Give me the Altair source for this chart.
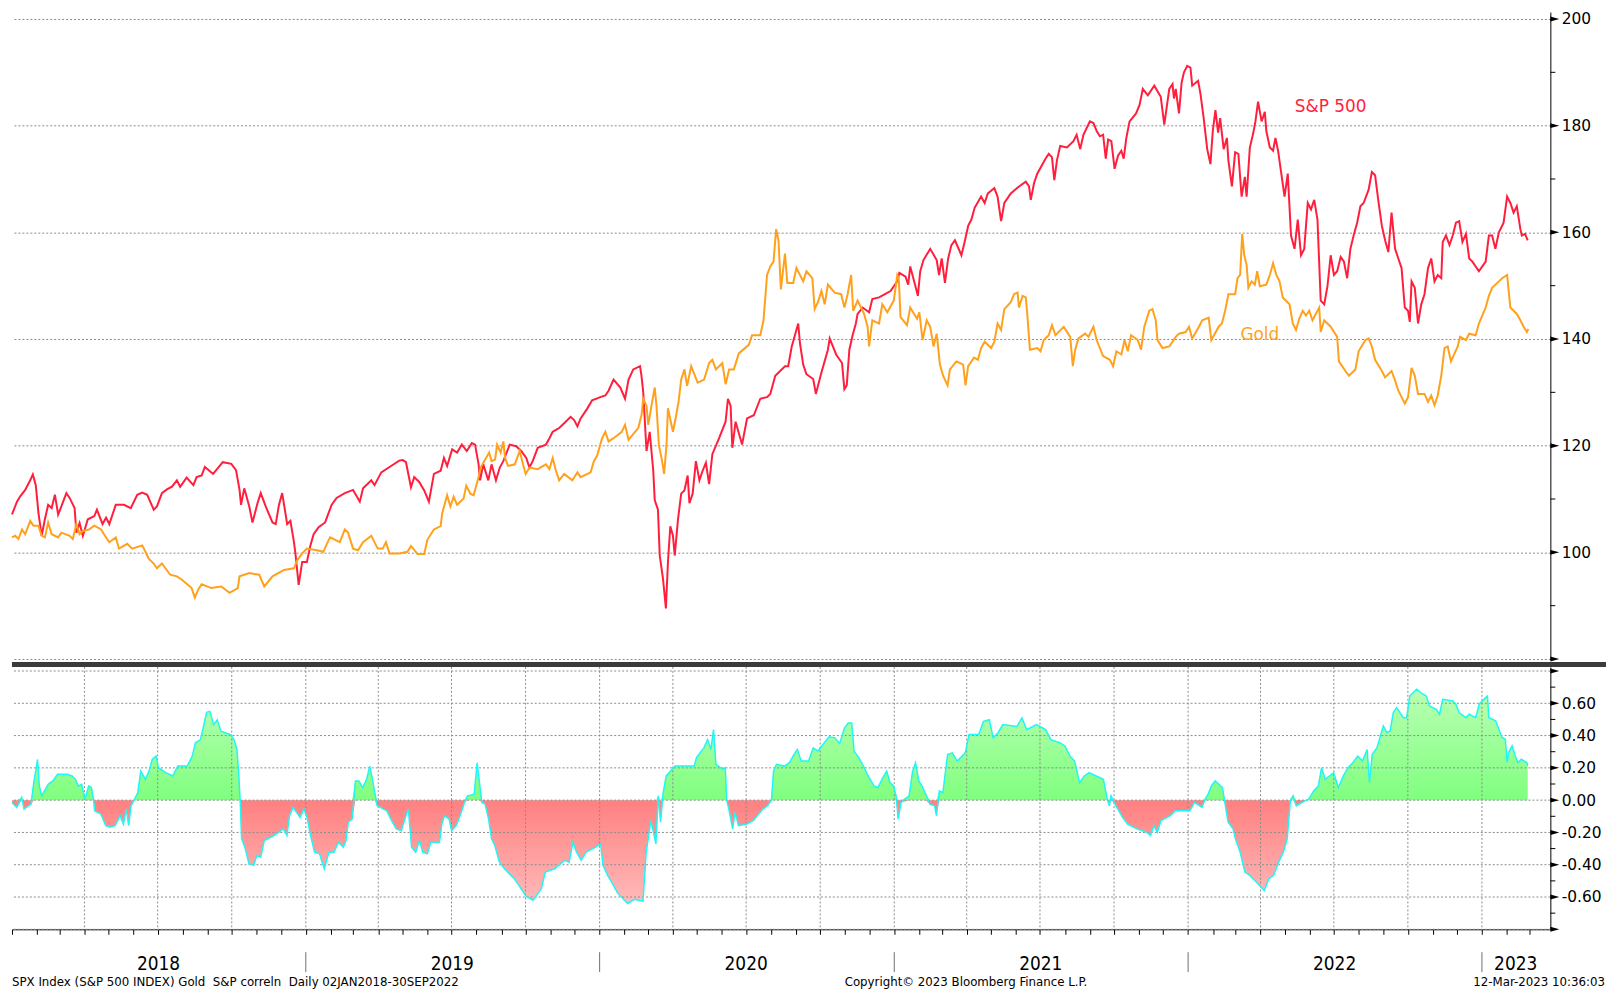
import altair as alt
import numpy as np
import pandas as pd

# ---------------- data (time = years after 1 Jan 2018) -------------
spx_t = [0.000, 0.017, 0.028, 0.045, 0.062, 0.071, 0.081, 0.090, 0.101, 0.112, 0.123, 0.135, 0.146, 0.157,
         0.168, 0.185, 0.196, 0.213, 0.219, 0.230, 0.241, 0.258, 0.280, 0.289, 0.308, 0.320, 0.331, 0.353,
         0.381, 0.404, 0.426, 0.443, 0.460, 0.482, 0.493, 0.510, 0.527, 0.544, 0.561, 0.572, 0.594, 0.617,
         0.628, 0.645, 0.656, 0.684, 0.717, 0.746, 0.762, 0.774, 0.779, 0.790, 0.807, 0.818, 0.835, 0.846,
         0.863, 0.886, 0.897, 0.908, 0.919, 0.936, 0.947, 0.959, 0.964, 0.975, 0.987, 1.003, 1.015, 1.026,
         1.043, 1.065, 1.087, 1.104, 1.132, 1.160, 1.183, 1.194, 1.222, 1.233, 1.256, 1.284, 1.317, 1.329,
         1.340, 1.357, 1.368, 1.385, 1.402, 1.418, 1.435, 1.458, 1.469, 1.480, 1.497, 1.514, 1.530, 1.547,
         1.564, 1.575, 1.587, 1.592, 1.603, 1.620, 1.631, 1.646, 1.659, 1.671, 1.693, 1.715, 1.732, 1.749,
         1.760, 1.771, 1.788, 1.816, 1.828, 1.839, 1.861, 1.878, 1.900, 1.912, 1.923, 1.934, 1.956, 1.973,
         2.001, 2.018, 2.029, 2.046, 2.069, 2.085, 2.097, 2.113, 2.136, 2.141, 2.147, 2.158, 2.169, 2.181,
         2.186, 2.197, 2.203, 2.214, 2.224, 2.231, 2.239, 2.248, 2.254, 2.265, 2.276, 2.287, 2.298, 2.304,
         2.315, 2.326, 2.338, 2.349, 2.360, 2.371, 2.382, 2.405, 2.427, 2.435, 2.444, 2.450, 2.461, 2.483,
         2.500, 2.523, 2.545, 2.568, 2.579, 2.596, 2.629, 2.640, 2.652, 2.674, 2.680, 2.691, 2.702, 2.725,
         2.734, 2.753, 2.775, 2.781, 2.803, 2.823, 2.831, 2.839, 2.848, 2.859, 2.870, 2.876, 2.893, 2.915,
         2.926, 2.949, 2.969, 2.988, 3.011, 3.018, 3.039, 3.048, 3.055, 3.074, 3.081, 3.089, 3.100, 3.123,
         3.145, 3.153, 3.162, 3.173, 3.184, 3.195, 3.207, 3.229, 3.240, 3.252, 3.263, 3.274, 3.296, 3.308,
         3.319, 3.341, 3.352, 3.364, 3.375, 3.397, 3.425, 3.448, 3.459, 3.465, 3.476, 3.487, 3.515, 3.526,
         3.537, 3.545, 3.554, 3.565, 3.588, 3.610, 3.621, 3.633, 3.644, 3.666, 3.678, 3.689, 3.700, 3.711,
         3.720, 3.728, 3.739, 3.750, 3.762, 3.773, 3.781, 3.790, 3.801, 3.823, 3.835, 3.846, 3.863, 3.885,
         3.907, 3.919, 3.936, 3.947, 3.952, 3.958, 3.969, 3.978, 3.986, 3.997, 4.008, 4.014, 4.034, 4.042,
         4.053, 4.065, 4.076, 4.084, 4.093, 4.102, 4.109, 4.121, 4.132, 4.137, 4.149, 4.160, 4.171, 4.182,
         4.193, 4.199, 4.210, 4.222, 4.229, 4.238, 4.250, 4.261, 4.266, 4.278, 4.289, 4.297, 4.306, 4.317,
         4.328, 4.339, 4.350, 4.362, 4.373, 4.384, 4.395, 4.407, 4.418, 4.429, 4.440, 4.451, 4.463, 4.474,
         4.485, 4.496, 4.507, 4.519, 4.530, 4.541, 4.552, 4.563, 4.575, 4.586, 4.597, 4.614, 4.625, 4.636,
         4.648, 4.659, 4.670, 4.681, 4.692, 4.704, 4.715, 4.726, 4.737, 4.748, 4.754, 4.760, 4.771, 4.782,
         4.793, 4.804, 4.816, 4.827, 4.838, 4.849, 4.861, 4.866, 4.877, 4.889, 4.900, 4.911, 4.922, 4.933,
         4.945, 4.956, 4.967, 4.989, 5.012, 5.023, 5.034, 5.045, 5.057, 5.073, 5.085, 5.096, 5.107, 5.118,
         5.130, 5.135, 5.146, 5.155]
spx_v = [107.1, 109.5, 110.5, 111.7, 113.5, 114.6, 112.6, 107.4, 103.1, 106.2, 108.9, 108.3, 110.8, 107.1,
         108.6, 111.1, 110.2, 108.3, 103.7, 105.5, 103.1, 106.2, 106.8, 108.0, 105.3, 106.5, 105.3, 108.9,
         108.9, 108.3, 110.8, 111.2, 110.8, 108.0, 108.6, 111.1, 111.8, 112.3, 113.5, 112.3, 114.0, 112.6,
         114.1, 114.4, 116.0, 114.7, 116.9, 116.6, 115.4, 111.7, 108.9, 112.0, 108.6, 105.6, 109.2, 111.1,
         108.6, 105.6, 105.3, 108.9, 111.1, 105.3, 105.9, 101.9, 99.8, 93.9, 98.2, 98.2, 101.3, 103.4,
         104.7, 105.6, 108.9, 110.2, 111.1, 111.7, 109.5, 112.0, 113.5, 112.6, 115.0, 116.0, 117.2, 117.3,
         116.9, 112.2, 114.1, 113.2, 111.6, 109.5, 114.7, 115.3, 117.7, 116.2, 119.3, 118.7, 120.2, 119.0,
         120.5, 120.2, 116.5, 113.5, 116.5, 113.5, 116.5, 113.5, 115.9, 117.1, 120.2, 119.9, 119.0, 117.7,
         115.9, 117.1, 119.6, 120.2, 121.4, 122.6, 123.3, 124.2, 125.4, 124.8, 123.6, 125.1, 126.9, 128.5,
         129.1, 129.4, 130.3, 132.4, 130.9, 128.8, 132.4, 134.3, 134.9, 133.1, 130.0, 119.0, 122.6, 115.3,
         109.8, 108.0, 99.4, 95.1, 89.5, 98.2, 104.9, 103.1, 99.4, 106.1, 111.0, 111.6, 114.4, 109.2,
         111.0, 117.1, 113.5, 115.3, 116.8, 112.8, 118.4, 121.4, 124.5, 128.8, 127.5, 119.6, 124.5, 120.2,
         125.1, 125.7, 128.8, 129.1, 129.7, 133.1, 134.9, 134.9, 138.6, 142.9, 139.2, 135.2, 133.4, 132.5,
         129.7, 133.7, 138.0, 140.1, 137.1, 135.5, 130.6, 131.3, 138.0, 140.7, 142.9, 144.7, 145.9, 145.0,
         147.5, 147.8, 148.4, 149.0, 150.8, 152.4, 151.7, 150.2, 153.6, 149.6, 148.1, 152.7, 154.8, 156.9,
         154.8, 152.0, 155.1, 150.5, 155.1, 157.6, 158.5, 155.7, 158.2, 161.2, 162.4, 164.6, 166.7, 165.5,
         167.3, 168.3, 166.7, 162.1, 165.5, 167.3, 168.6, 169.5, 168.6, 166.1, 169.2, 171.0, 173.8, 174.7,
         174.1, 169.8, 173.5, 176.2, 175.9, 177.1, 178.3, 175.6, 178.3, 180.8, 180.5, 179.0, 178.0, 178.3,
         173.8, 177.4, 177.1, 171.9, 174.4, 175.3, 173.8, 177.7, 180.8, 182.3, 183.9, 186.9, 185.7, 187.5,
         185.4, 180.2, 186.9, 187.8, 185.1, 186.9, 182.3, 188.1, 190.0, 191.2, 190.9, 187.5, 188.4, 186.0,
         181.4, 175.6, 172.8, 179.0, 182.9, 178.7, 181.4, 175.6, 177.7, 173.5, 168.6, 175.0, 174.7, 166.7,
         170.4, 166.7, 175.9, 178.7, 180.8, 184.5, 180.8, 182.6, 179.0, 175.9, 175.3, 177.7, 175.3, 171.0,
         166.7, 171.0, 159.4, 156.9, 162.4, 155.7, 156.9, 165.5, 164.3, 166.1, 162.4, 147.2, 146.5, 149.9,
         155.7, 152.0, 152.7, 155.4, 154.5, 151.4, 156.9, 159.4, 161.8, 164.9, 165.5, 168.0, 171.3, 170.7,
         165.5, 161.2, 158.5, 156.3, 163.7, 156.9, 155.1, 153.3, 145.9, 145.3, 143.2, 150.8, 149.6, 142.9,
         146.5, 148.4, 153.3, 155.1, 150.8, 152.0, 151.4, 158.2, 159.4, 157.6, 159.4, 161.8, 162.1, 158.2,
         159.7, 155.1, 154.5, 152.7, 154.5, 159.4, 159.4, 156.9, 160.0, 161.8, 166.7, 165.5, 163.7, 164.9,
         160.6, 159.4, 159.7, 158.5]

gold_t = [0.000, 0.011, 0.022, 0.034, 0.045, 0.062, 0.073, 0.090, 0.101, 0.112, 0.123, 0.135, 0.157, 0.168,
          0.196, 0.207, 0.219, 0.230, 0.241, 0.263, 0.280, 0.303, 0.320, 0.331, 0.353, 0.364, 0.392, 0.409,
          0.443, 0.454, 0.465, 0.482, 0.493, 0.510, 0.538, 0.561, 0.577, 0.611, 0.622, 0.633, 0.645, 0.678,
          0.712, 0.740, 0.768, 0.774, 0.807, 0.841, 0.858, 0.886, 0.925, 0.959, 0.970, 0.987, 1.003, 1.037,
          1.059, 1.071, 1.082, 1.115, 1.132, 1.143, 1.160, 1.177, 1.194, 1.222, 1.244, 1.261, 1.272, 1.284,
          1.317, 1.345, 1.357, 1.379, 1.402, 1.413, 1.435, 1.458, 1.463, 1.480, 1.491, 1.502, 1.514, 1.536,
          1.545, 1.559, 1.570, 1.587, 1.594, 1.606, 1.623, 1.631, 1.643, 1.650, 1.662, 1.671, 1.677, 1.687,
          1.710, 1.727, 1.738, 1.747, 1.760, 1.788, 1.816, 1.828, 1.839, 1.850, 1.861, 1.878, 1.906, 1.923,
          1.934, 1.968, 1.979, 1.990, 2.007, 2.018, 2.029, 2.046, 2.074, 2.085, 2.097, 2.119, 2.130, 2.141,
          2.147, 2.158, 2.164, 2.175, 2.186, 2.192, 2.200, 2.209, 2.218, 2.226, 2.231, 2.248, 2.259, 2.267,
          2.276, 2.287, 2.296, 2.310, 2.332, 2.354, 2.371, 2.382, 2.394, 2.416, 2.427, 2.439, 2.455, 2.472,
          2.506, 2.517, 2.545, 2.556, 2.568, 2.579, 2.590, 2.599, 2.607, 2.615, 2.629, 2.637, 2.657, 2.668,
          2.691, 2.702, 2.722, 2.730, 2.741, 2.753, 2.764, 2.775, 2.798, 2.820, 2.831, 2.842, 2.854, 2.861,
          2.876, 2.898, 2.910, 2.915, 2.926, 2.949, 2.960, 2.977, 2.999, 3.011, 3.016, 3.022, 3.044, 3.055,
          3.078, 3.086, 3.097, 3.111, 3.123, 3.134, 3.145, 3.156, 3.167, 3.182, 3.190, 3.212, 3.235, 3.243,
          3.252, 3.272, 3.285, 3.296, 3.308, 3.330, 3.341, 3.352, 3.364, 3.375, 3.397, 3.408, 3.420, 3.425,
          3.437, 3.448, 3.453, 3.462, 3.487, 3.498, 3.509, 3.526, 3.537, 3.549, 3.577, 3.599, 3.608, 3.616,
          3.627, 3.650, 3.661, 3.678, 3.689, 3.711, 3.734, 3.745, 3.756, 3.773, 3.784, 3.795, 3.806, 3.829,
          3.840, 3.851, 3.868, 3.879, 3.890, 3.896, 3.913, 3.936, 3.958, 3.969, 3.992, 4.003, 4.014, 4.037,
          4.048, 4.070, 4.079, 4.104, 4.115, 4.126, 4.137, 4.160, 4.168, 4.177, 4.184, 4.191, 4.199, 4.205,
          4.216, 4.227, 4.235, 4.244, 4.266, 4.278, 4.289, 4.300, 4.311, 4.322, 4.345, 4.356, 4.367, 4.378,
          4.390, 4.401, 4.412, 4.423, 4.446, 4.451, 4.463, 4.485, 4.507, 4.513, 4.535, 4.547, 4.569, 4.580,
          4.603, 4.614, 4.625, 4.636, 4.659, 4.670, 4.692, 4.704, 4.715, 4.737, 4.748, 4.760, 4.771, 4.782,
          4.804, 4.816, 4.827, 4.838, 4.849, 4.861, 4.872, 4.883, 4.894, 4.917, 4.925, 4.945, 4.956, 4.978,
          4.989, 5.012, 5.023, 5.034, 5.057, 5.068, 5.085, 5.096, 5.118, 5.130, 5.141, 5.152, 5.157]
gold_v = [102.8, 103.1, 102.5, 104.3, 103.4, 105.9, 105.0, 105.0, 103.1, 102.8, 105.6, 103.4, 102.8, 103.7,
          103.1, 102.5, 105.3, 103.4, 104.0, 104.3, 105.0, 104.3, 102.8, 101.9, 102.8, 100.7, 101.6, 100.7,
          101.3, 100.1, 98.8, 97.9, 97.0, 97.9, 95.8, 95.5, 94.9, 93.3, 91.5, 93.0, 94.0, 93.3,
          93.6, 92.4, 93.3, 95.5, 96.1, 95.8, 93.6, 95.5, 96.7, 97.0, 98.5, 99.8, 100.7, 100.4,
          100.1, 101.6, 102.8, 101.9, 104.3, 103.7, 100.7, 100.4, 101.9, 103.1, 100.7, 100.7, 101.9, 99.8,
          99.8, 100.1, 101.2, 99.7, 99.7, 102.4, 104.3, 104.9, 107.3, 110.7, 108.6, 110.4, 108.9, 110.1,
          112.5, 111.0, 110.7, 114.1, 115.9, 117.1, 118.7, 117.1, 117.4, 120.2, 118.7, 120.8, 117.7, 116.2,
          116.5, 119.0, 116.5, 114.7, 115.9, 115.6, 116.5, 115.6, 117.7, 115.3, 113.5, 114.7, 113.5, 115.0,
          114.1, 115.0, 117.1, 118.1, 121.4, 122.6, 120.8, 121.4, 122.6, 123.9, 121.1, 122.6, 123.3, 125.7,
          128.8, 127.5, 123.9, 127.5, 130.9, 127.5, 120.2, 117.7, 114.7, 120.2, 127.0, 122.6, 125.7, 128.2,
          132.4, 134.3, 131.2, 134.9, 131.8, 132.4, 135.5, 136.1, 134.3, 135.5, 131.5, 134.3, 134.3, 137.3,
          138.9, 140.7, 140.7, 143.5, 152.0, 153.6, 154.5, 160.6, 158.5, 149.3, 156.0, 150.5, 150.5, 153.3,
          150.8, 152.7, 151.4, 145.6, 146.9, 149.0, 146.5, 150.2, 148.7, 148.4, 145.9, 148.4, 152.0, 145.3,
          147.2, 144.7, 142.3, 138.6, 143.5, 142.9, 146.5, 145.0, 147.2, 152.0, 151.4, 144.1, 142.6, 145.9,
          143.8, 145.0, 139.8, 143.5, 142.3, 138.6, 141.0, 135.2, 133.1, 131.3, 134.3, 135.8, 135.2, 131.3,
          134.9, 136.5, 136.1, 138.3, 139.5, 138.3, 139.5, 142.9, 141.7, 145.6, 146.9, 148.4, 148.7, 145.9,
          148.1, 147.8, 144.7, 138.0, 138.3, 137.7, 139.8, 140.7, 142.6, 140.7, 142.3, 140.4, 134.9, 138.0,
          140.1, 141.0, 140.4, 142.3, 139.8, 136.8, 136.1, 134.9, 137.7, 137.1, 139.8, 137.7, 140.7, 139.8,
          138.0, 142.3, 145.3, 145.6, 143.5, 139.8, 138.3, 138.6, 140.4, 141.0, 141.3, 142.3, 140.1, 142.3,
          143.5, 144.0, 139.8, 142.3, 142.9, 145.3, 148.4, 148.4, 151.4, 152.0, 159.7, 155.7, 153.9, 149.6,
          150.8, 150.2, 152.7, 149.9, 150.2, 152.0, 154.2, 152.0, 150.8, 147.8, 146.5, 142.9, 141.7, 143.8,
          145.3, 144.4, 145.3, 143.5, 145.9, 141.3, 143.5, 142.3, 140.4, 135.8, 134.0, 133.1, 134.3, 137.7,
          139.8, 140.1, 138.6, 136.1, 134.0, 132.8, 134.0, 132.2, 130.3, 127.9, 129.1, 134.6, 133.1, 129.7,
          129.7, 128.2, 129.4, 127.6, 129.4, 133.1, 138.3, 138.6, 135.8, 138.6, 140.4, 139.8, 141.0, 140.7,
          142.9, 145.9, 148.1, 149.6, 150.8, 151.4, 152.0, 145.9, 144.7, 143.5, 142.3, 141.3, 141.9]

corr_t = [0.000, 0.016, 0.033, 0.041, 0.065, 0.074, 0.087, 0.093, 0.101, 0.123, 0.139, 0.155, 0.188, 0.204,
          0.216, 0.225, 0.237, 0.248, 0.261, 0.270, 0.278, 0.281, 0.302, 0.319, 0.335, 0.351, 0.368, 0.379,
          0.389, 0.397, 0.405, 0.417, 0.428, 0.438, 0.454, 0.466, 0.477, 0.490, 0.498, 0.523, 0.547, 0.564,
          0.596, 0.613, 0.624, 0.641, 0.650, 0.662, 0.673, 0.686, 0.698, 0.711, 0.743, 0.755, 0.765, 0.771,
          0.776, 0.781, 0.792, 0.806, 0.822, 0.833, 0.846, 0.858, 0.891, 0.907, 0.923, 0.935, 0.944, 0.956,
          0.980, 0.993, 1.005, 1.013, 1.029, 1.046, 1.062, 1.078, 1.095, 1.111, 1.127, 1.136, 1.144, 1.157,
          1.168, 1.180, 1.193, 1.206, 1.217, 1.225, 1.234, 1.242, 1.275, 1.291, 1.307, 1.324, 1.340, 1.348,
          1.359, 1.373, 1.386, 1.397, 1.413, 1.425, 1.454, 1.462, 1.471, 1.487, 1.495, 1.511, 1.528, 1.539,
          1.549, 1.572, 1.582, 1.590, 1.598, 1.609, 1.621, 1.631, 1.642, 1.658, 1.675, 1.691, 1.708, 1.724,
          1.748, 1.772, 1.800, 1.814, 1.846, 1.879, 1.895, 1.908, 1.920, 1.936, 1.953, 1.985, 2.002, 2.010,
          2.026, 2.042, 2.060, 2.094, 2.118, 2.146, 2.157, 2.173, 2.190, 2.198, 2.206, 2.214, 2.225, 2.255,
          2.320, 2.328, 2.353, 2.366, 2.377, 2.386, 2.394, 2.418, 2.426, 2.431, 2.438, 2.451, 2.459, 2.471,
          2.500, 2.521, 2.554, 2.570, 2.583, 2.590, 2.600, 2.627, 2.644, 2.660, 2.671, 2.684, 2.709, 2.725,
          2.741, 2.758, 2.779, 2.799, 2.815, 2.831, 2.844, 2.856, 2.864, 2.880, 2.896, 2.909, 2.932, 2.945,
          2.962, 2.975, 2.986, 2.998, 3.007, 3.014, 3.024, 3.051, 3.063, 3.073, 3.084, 3.095, 3.108, 3.122,
          3.138, 3.144, 3.154, 3.166, 3.182, 3.198, 3.215, 3.242, 3.255, 3.288, 3.304, 3.324, 3.337, 3.353,
          3.370, 3.418, 3.435, 3.451, 3.484, 3.516, 3.533, 3.565, 3.582, 3.598, 3.614, 3.631, 3.647, 3.663,
          3.712, 3.725, 3.732, 3.738, 3.748, 3.761, 3.777, 3.794, 3.826, 3.859, 3.872, 3.884, 3.895, 3.908,
          3.940, 3.957, 4.006, 4.022, 4.047, 4.058, 4.068, 4.079, 4.092, 4.117, 4.125, 4.136, 4.153, 4.161,
          4.177, 4.193, 4.210, 4.226, 4.242, 4.259, 4.275, 4.291, 4.308, 4.324, 4.337, 4.348, 4.357, 4.368,
          4.397, 4.410, 4.427, 4.443, 4.454, 4.466, 4.495, 4.511, 4.528, 4.544, 4.560, 4.577, 4.593, 4.609,
          4.617, 4.626, 4.642, 4.664, 4.676, 4.687, 4.698, 4.709, 4.732, 4.743, 4.754, 4.777, 4.799, 4.810,
          4.821, 4.844, 4.855, 4.866, 4.900, 4.911, 4.922, 4.945, 4.956, 4.978, 4.990, 5.012, 5.018, 5.023,
          5.046, 5.057, 5.068, 5.079, 5.085, 5.090, 5.102, 5.113, 5.122, 5.133, 5.152, 5.155]
corr_v = [-0.014, -0.045, 0.016, -0.055, -0.025, 0.109, 0.252, 0.088, 0.027, 0.098, 0.119, 0.160, 0.160, 0.150,
          0.129, 0.088, 0.098, 0.006, 0.088, 0.078, -0.004, -0.066, -0.086, -0.158, -0.168, -0.158, -0.096, -0.148,
          -0.055, -0.158, -0.035, 0.006, 0.047, 0.180, 0.129, 0.180, 0.252, 0.273, 0.201, 0.170, 0.150, 0.211,
          0.211, 0.273, 0.355, 0.375, 0.447, 0.544, 0.550, 0.468, 0.498, 0.427, 0.406, 0.375, 0.314, 0.170,
          0.000, -0.240, -0.291, -0.394, -0.404, -0.343, -0.353, -0.250, -0.219, -0.199, -0.178, -0.219, -0.096, -0.045,
          -0.107, -0.055, -0.117, -0.199, -0.322, -0.332, -0.425, -0.322, -0.322, -0.260, -0.291, -0.250, -0.137, -0.117,
          0.119, 0.119, 0.078, 0.129, 0.211, 0.139, 0.047, -0.035, -0.066, -0.127, -0.178, -0.189, -0.096, -0.055,
          -0.291, -0.322, -0.250, -0.322, -0.332, -0.260, -0.260, -0.148, -0.096, -0.117, -0.189, -0.158, -0.076, -0.014,
          0.027, 0.037, 0.232, 0.109, -0.014, -0.025, -0.117, -0.240, -0.281, -0.384, -0.425, -0.455, -0.486, -0.527,
          -0.595, -0.620, -0.550, -0.445, -0.425, -0.373, -0.384, -0.260, -0.322, -0.373, -0.322, -0.291, -0.271, -0.404,
          -0.466, -0.517, -0.576, -0.640, -0.614, -0.627, -0.322, -0.127, -0.271, 0.027, -0.137, 0.037, 0.150, 0.211,
          0.211, 0.263, 0.324, 0.375, 0.314, 0.437, 0.222, 0.191, 0.201, 0.000, -0.055, -0.178, -0.076, -0.158,
          -0.148, -0.127, -0.055, -0.035, 0.000, 0.180, 0.222, 0.211, 0.232, 0.283, 0.314, 0.242, 0.242, 0.324,
          0.304, 0.345, 0.392, 0.386, 0.351, 0.447, 0.478, 0.478, 0.304, 0.263, 0.211, 0.160, 0.088, 0.078,
          0.139, 0.180, 0.109, 0.088, 0.027, -0.117, -0.014, 0.027, 0.180, 0.232, 0.119, 0.088, 0.037, -0.025,
          -0.035, -0.096, 0.057, 0.047, 0.283, 0.293, 0.242, 0.293, 0.406, 0.406, 0.488, 0.498, 0.386, 0.416,
          0.468, 0.457, 0.509, 0.437, 0.468, 0.437, 0.375, 0.355, 0.334, 0.273, 0.242, 0.109, 0.150, 0.170,
          0.129, 0.006, -0.035, 0.027, -0.014, -0.055, -0.107, -0.148, -0.178, -0.199, -0.219, -0.158, -0.199, -0.127,
          -0.096, -0.066, -0.066, -0.014, -0.045, 0.006, 0.037, 0.088, 0.119, 0.078, -0.014, -0.137, -0.178, -0.240,
          -0.322, -0.445, -0.466, -0.496, -0.527, -0.560, -0.486, -0.466, -0.384, -0.322, -0.240, 0.000, 0.027, -0.035,
          -0.004, 0.006, 0.057, 0.088, 0.201, 0.129, 0.170, 0.078, 0.150, 0.201, 0.232, 0.273, 0.242, 0.314,
          0.109, 0.283, 0.324, 0.460, 0.419, 0.429, 0.542, 0.573, 0.511, 0.511, 0.645, 0.687, 0.656, 0.645,
          0.584, 0.563, 0.532, 0.625, 0.614, 0.594, 0.542, 0.511, 0.532, 0.511, 0.594, 0.635, 0.645, 0.511,
          0.491, 0.439, 0.388, 0.377, 0.233, 0.295, 0.336, 0.274, 0.233, 0.254, 0.233, 0.212]

top_ticks = [80, 100, 120, 140, 160, 180, 200]
top_minor = [90, 110, 130, 150, 170, 190]
bot_ticks = [-0.8, -0.6, -0.4, -0.2, 0.0, 0.2, 0.4, 0.6, 0.8]
bot_minor = [-0.7, -0.5, -0.3, -0.1, 0.1, 0.3, 0.5, 0.7]
series_names = ["S&P 500", "Gold"]
label_t = [4.363, 4.178]
label_v = [182.6, 139.8]
year_labels = ["2018", "2019", "2020", "2021", "2022", "2023"]
year_label_dates = ["2018-07-02", "2019-07-02", "2020-07-01", "2021-07-02", "2022-07-02", "2023-02-12"]
year_bounds = ["2019-01-01", "2020-01-01", "2021-01-01", "2022-01-01", "2023-01-01"]
footer_left = "SPX Index (S&P 500 INDEX) Gold\u00a0 S&P correln\u00a0 Daily 02JAN2018-30SEP2022"
footer_mid = "Copyright\u00a9 2023 Bloomberg Finance L.P."
footer_right = "12-Mar-2023 10:36:03"

# ---------------- styling ----------------
RED = "#ff1f3d"
GOLD = "#ffa11c"
GRID = "#8a8a8a"
CYAN = "#22f5f5"
NUM_FONT = "DejaVu Sans"
NARROW = "DejaVu Sans Condensed, Liberation Sans Narrow, sans-serif"
W, H1, H2 = 1548, 651, 264
TRI = "M-1,-0.55L1,0L-1,0.55Z"

base = pd.Timestamp("2018-01-01")


def to_dates(t):
    return base + pd.to_timedelta(np.asarray(t, dtype=float) * 365.25, unit="D")


prices = pd.DataFrame({
    "date": list(to_dates(spx_t)) + list(to_dates(gold_t)),
    "value": spx_v + gold_v,
    "series": [series_names[0]] * len(spx_v) + [series_names[1]] * len(gold_v),
})
notes = pd.DataFrame({"date": to_dates(label_t), "value": label_v, "series": series_names})
corr = pd.DataFrame({"date": to_dates(corr_t), "r": corr_v})
corr["pos"] = corr["r"].clip(lower=0)
corr["neg"] = corr["r"].clip(upper=0)
quarters = pd.DataFrame({"date": pd.date_range("2018-04-01", "2023-01-01", freq="QS")})
months = pd.date_range("2018-01-01", "2023-03-01", freq="MS")
month_vals = [alt.DateTime(year=int(d.year), month=int(d.month), date=1) for d in months]
ylab = pd.DataFrame({"date": pd.to_datetime(year_label_dates), "label": year_labels})
ybnd = pd.DataFrame({"date": pd.to_datetime(year_bounds)})

x_scale = alt.Scale(domain=[alt.DateTime(year=2018, month=1, date=1),
                            alt.DateTime(year=2023, month=3, date=27)], nice=False)
top_y = alt.Scale(domain=[80, 201.3], nice=False, zero=False)
bot_y = alt.Scale(domain=[-0.8, 0.825], nice=False, zero=False)
color_scale = alt.Scale(domain=series_names, range=[RED, GOLD])


def X(axis=None):
    return alt.X("date:T", scale=x_scale, axis=axis)


# ---------------- top panel ----------------
top_axis = alt.Axis(orient="right", values=top_ticks, grid=True, gridDash=[2, 2], gridColor=GRID,
                    gridWidth=1, ticks=False, domain=True, domainColor="#000", domainWidth=1,
                    labelFont=NUM_FONT, labelFontSize=15.5, labelColor="#000", labelPadding=11, title=None,
                    labelExpr="datum.value < 90 ? '' : datum.label")
lines = alt.Chart(prices).mark_line(strokeWidth=2).encode(
    x=X(), y=alt.Y("value:Q", scale=top_y, axis=top_axis),
    color=alt.Color("series:N", scale=color_scale, legend=None))
note_text = alt.Chart(notes).mark_text(align="left", baseline="alphabetic", font=NUM_FONT, fontSize=17).encode(
    x=X(), y=alt.Y("value:Q", scale=top_y, axis=None), text="series:N",
    color=alt.Color("series:N", scale=color_scale, legend=None))
top_tri = alt.Chart(pd.DataFrame({"value": top_ticks})).mark_point(
    shape=TRI, size=81, filled=True, color="#000", opacity=1, strokeWidth=0).encode(
    x=alt.value(W + 4.5), y=alt.Y("value:Q", scale=top_y, axis=None))
top_min = alt.Chart(pd.DataFrame({"value": top_minor})).mark_rule(color="#000", strokeWidth=1).encode(
    x=alt.value(W), x2=alt.value(W + 5), y=alt.Y("value:Q", scale=top_y, axis=None))
top = alt.layer(lines, note_text, top_tri, top_min).resolve_axis(
    x="independent", y="independent").properties(width=W, height=H1)

# ---------------- bottom panel ----------------
green_grad = alt.LinearGradient(gradient="linear", x1=0, x2=0, y1=0, y2=1,
                                stops=[alt.GradientStop(color="#b9ffb2", offset=0),
                                       alt.GradientStop(color="#80ff80", offset=1)])
red_grad = alt.LinearGradient(gradient="linear", x1=0, x2=0, y1=0, y2=1,
                              stops=[alt.GradientStop(color="#ff8080", offset=0),
                                     alt.GradientStop(color="#ffbaba", offset=1)])
bot_axis = alt.Axis(orient="right", values=bot_ticks, grid=False, ticks=False, domain=True, domainColor="#000",
                    domainWidth=1, labelFont=NUM_FONT, labelFontSize=15.5, labelColor="#000", labelPadding=11,
                    title=None,
                    labelExpr="abs(datum.value) > 0.7 ? '' : (datum.value < -0.001 ? '-' + format(-datum.value, '.2f') : format(abs(datum.value), '.2f'))")
x_axis = alt.Axis(orient="bottom", values=month_vals, labels=False, ticks=True, tickSize=5, tickColor="#000",
                  tickWidth=1, domain=True, domainColor="#000", domainWidth=1, grid=False, title=None)

pos_area = alt.Chart(corr).mark_area(fill=green_grad).encode(
    x=X(), y=alt.Y("pos:Q", scale=bot_y, axis=bot_axis), y2=alt.Y2Datum(0))
neg_area = alt.Chart(corr).mark_area(fill=red_grad).encode(
    x=X(), y=alt.Y("neg:Q", scale=bot_y, axis=None), y2=alt.Y2Datum(0))
hgrid = alt.Chart(pd.DataFrame({"r": bot_ticks})).mark_rule(color=GRID, strokeDash=[2, 2], strokeWidth=1).encode(
    y=alt.Y("r:Q", scale=bot_y, axis=None))
vgrid = alt.Chart(quarters).mark_rule(color=GRID, strokeDash=[2, 2], strokeWidth=1).encode(x=X())
cyan = alt.Chart(corr).mark_line(color=CYAN, strokeWidth=1.5).encode(
    x=X(x_axis), y=alt.Y("r:Q", scale=bot_y, axis=None))
bot_tri = alt.Chart(pd.DataFrame({"r": bot_ticks})).mark_point(
    shape=TRI, size=81, filled=True, color="#000", opacity=1, strokeWidth=0).encode(
    x=alt.value(W + 4.5), y=alt.Y("r:Q", scale=bot_y, axis=None))
bot_min = alt.Chart(pd.DataFrame({"r": bot_minor})).mark_rule(color="#000", strokeWidth=1).encode(
    x=alt.value(W), x2=alt.value(W + 5), y=alt.Y("r:Q", scale=bot_y, axis=None))
bar = alt.Chart(pd.DataFrame({"k": [0]})).mark_rect(color="#3b3b3b").encode(
    x=alt.value(0), x2=alt.value(1604), y=alt.value(-5), y2=alt.value(0))
year_rules = alt.Chart(ybnd).mark_rule(color="#6f6f6f", strokeWidth=1).encode(
    x=X(), y=alt.value(287), y2=alt.value(307))
year_text = alt.Chart(ylab).mark_text(align="center", baseline="alphabetic", font=NARROW, fontSize=19,
                                      color="#000").encode(x=X(), y=alt.value(305), text="label:N")
foot_l = alt.Chart(pd.DataFrame({"t": [footer_left]})).mark_text(
    align="left", baseline="alphabetic", font=NARROW, fontSize=13.2, color="#000").encode(
    x=alt.value(0), y=alt.value(321), text="t:N")
foot_m = alt.Chart(pd.DataFrame({"t": [footer_mid]})).mark_text(
    align="center", baseline="alphabetic", font=NARROW, fontSize=13.2, color="#000").encode(
    x=alt.value(960), y=alt.value(321), text="t:N")
foot_r = alt.Chart(pd.DataFrame({"t": [footer_right]})).mark_text(
    align="right", baseline="alphabetic", font=NARROW, fontSize=13.2, color="#000").encode(
    x=alt.value(1603), y=alt.value(321), text="t:N")

bottom = alt.layer(pos_area, neg_area, hgrid, vgrid, cyan, bot_tri, bot_min, bar,
                   year_rules, year_text, foot_l, foot_m, foot_r).resolve_axis(
    x="independent", y="independent").properties(width=W, height=H2)

chart = alt.vconcat(top, bottom, spacing=8, bounds="flush", padding=0).configure_view(stroke=None)

chart.save("out.html", embed_options={"renderer": "svg", "actions": False})
